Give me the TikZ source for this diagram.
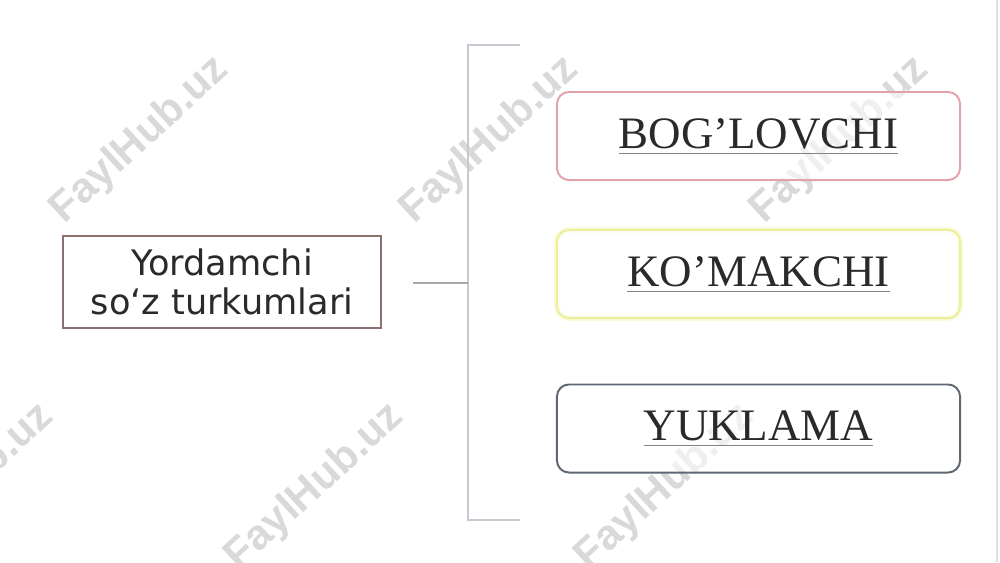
\documentclass[tikz,border=0pt]{standalone}
\usepackage{fontspec}
\setmainfont{Liberation Serif}
\newfontfamily\boxsans{DejaVu Sans}
\newfontfamily\wmfont{Liberation Sans}
\definecolor{leftborder}{HTML}{8C7070}
\definecolor{pinkborder}{HTML}{E2A2AA}
\definecolor{yellowborder}{HTML}{ECEE9A}
\definecolor{yellowglow}{HTML}{F8FAD8}
\definecolor{grayborder}{HTML}{5E6872}
\definecolor{bracecol}{HTML}{C4C9D2}
\definecolor{tickcol}{HTML}{A8A8A8}
\definecolor{wmgray}{HTML}{D9D9D9}
\definecolor{txtdark}{HTML}{2A2A2A}
\definecolor{ulgray}{HTML}{8A8080}
\newcommand\ulboxtext[1]{\setbox0\hbox{#1}\rlap{\color{ulgray}\rule[-4pt]{\wd0}{0.8pt}}\box0}
\begin{document}
\begin{tikzpicture}[x=0.025cm,y=-0.025cm,
  leftbox/.style={draw=leftborder,line width=1.4pt,fill=white,fill opacity=0.6,text opacity=1,minimum width=7.95cm,minimum height=2.3cm,inner sep=0pt,
    align=center,text=txtdark,font=\boxsans\fontsize{25}{27.5}\selectfont},
  catbox/.style={line width=1.4pt,fill=white,fill opacity=0.6,text opacity=1,rounded corners=0.3cm,minimum width=10.075cm,minimum height=2.2cm,inner sep=0pt,
    text=txtdark,font=\fontsize{32}{36}\selectfont},
  wm/.style={rotate=42.5,text=wmgray,font=\wmfont\bfseries\fontsize{30}{30}\selectfont}]
\clip (0,0) rectangle (1000,562);
\fill[white] (0,0) rectangle (1000,562);
\draw[white!88!black,line width=0.8pt] (997,0) -- (997,562);
% watermarks
\foreach \p/\n in {(140,140)/w1,(490,140)/w2,(840,140)/w3,(-35,487)/w4,(315,487)/w5,(665,487)/w6}
  \node[wm] (\n) at \p {FaylHub.uz};
% left box
\node[leftbox] (main) at (222,282) {Yordamchi\\so‘z turkumlari};
% right boxes
\node[catbox,draw=yellowglow,line width=4pt,fill=none] (komg) at (758.5,274) {};
\node[catbox,draw=pinkborder] (bog) at (758.5,136) {\ulboxtext{BOG’LOVCHI}};
\node[catbox,draw=yellowborder] (kom) at (758.5,274) {\ulboxtext{KO’MAKCHI}};
\node[catbox,draw=grayborder] (yuk) at (758.5,428.5) {\ulboxtext{YUKLAMA}};
% brace
\coordinate (btop) at (520,45);
\coordinate (bbot) at (520,520);
\coordinate (bmid) at (468,283);
\coordinate (tick) at (413,283);
\draw[bracecol,line width=1.4pt] (btop) -- (468,45) -- (468,520) -- (bbot);
\draw[tickcol,line width=1.4pt] (tick) -- (bmid);
\end{tikzpicture}
\end{document}
